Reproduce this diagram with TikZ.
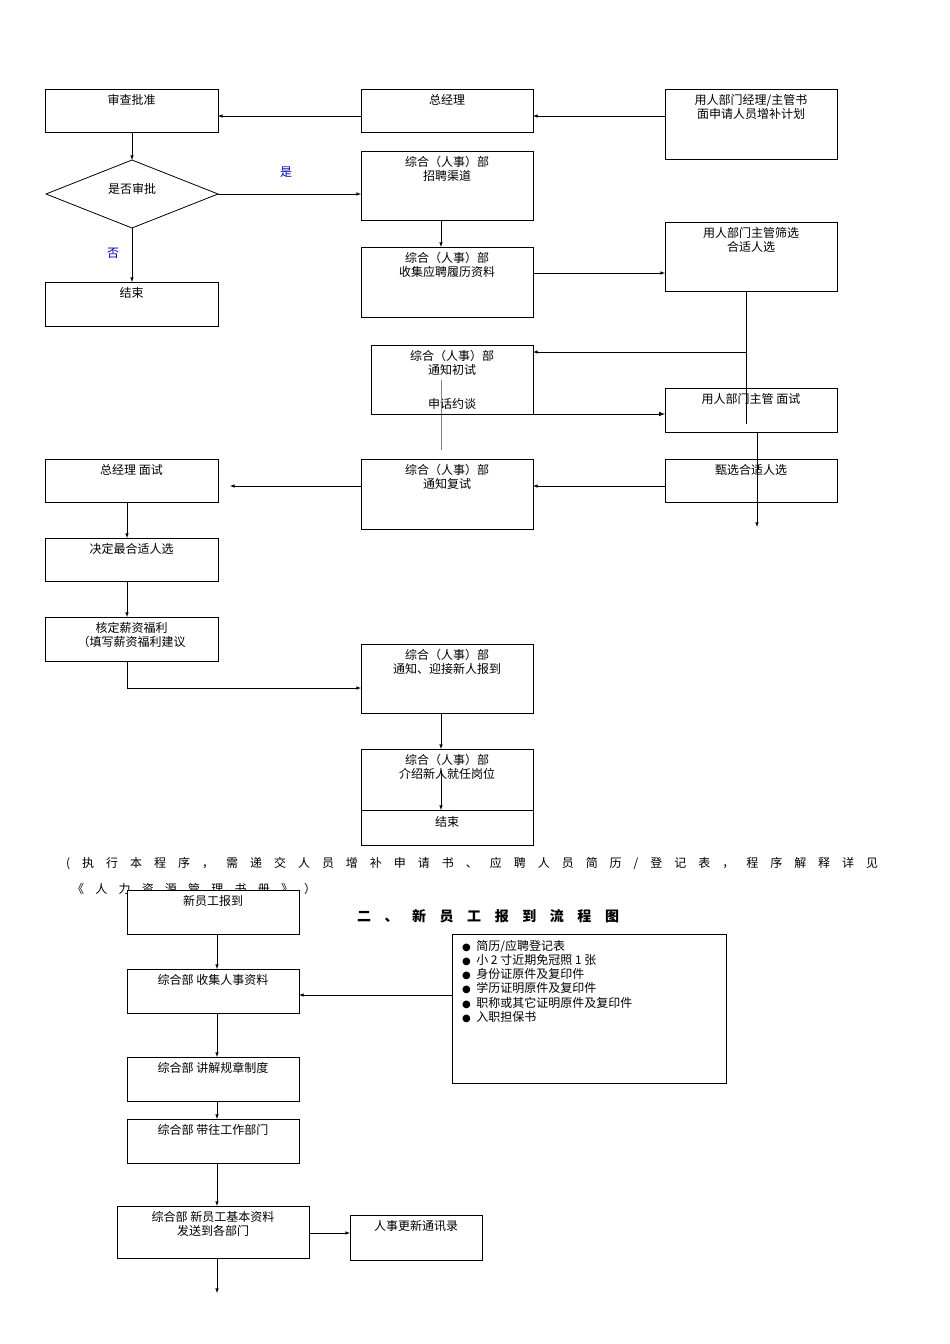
\documentclass[tikz,border=0pt]{standalone}
\usepackage{fontspec}
\setmainfont{Liberation Serif}
\newfontfamily\cjk{Noto Sans CJK SC}
\newfontfamily\dv{DejaVu Sans}
\begin{document}
\begin{tikzpicture}[x=1pt,y=-1pt,
  bx/.style={draw,fill=white,line width=0.8pt},
  tx/.style={anchor=north,font=\cjk\fontsize{12}{14}\selectfont,align=center,inner sep=0pt},
  ar/.style={-latex,line width=0.6pt},
  ln/.style={line width=0.6pt}]
\useasboundingbox (0,0) rectangle (950,1344);
\def\B#1#2#3#4#5#6{\draw[bx] (#2,#3) rectangle (#4,#5); \coordinate (#1) at ({(#2+#4)/2},#3); \node[tx] (#1t) at ({(#2+#4)/2},{#3+5}) {#6};}
\B{a}{45}{89}{218}{132}{审查批准}
\B{b}{361}{89}{533}{132}{总经理}
\B{c}{665}{89}{837}{159}{用人部门经理/主管书\\面申请人员增补计划}
\coordinate (dmn) at (132,160); \coordinate (dme) at (218,194);
\coordinate (dms) at (132,228); \coordinate (dmw) at (46,194);
\draw[line width=0.8pt] (dmn) -- (dme) -- (dms) -- (dmw) -- cycle;
\node[tx] (dmt) at (132,183) {是否审批};
\B{d}{361}{151}{533}{220}{综合（人事）部\\招聘渠道}
\B{e}{45}{282}{218}{326}{结束}
\B{f}{361}{247}{533}{317}{综合（人事）部\\收集应聘履历资料}
\B{g}{665}{222}{837}{291}{用人部门主管筛选\\合适人选}
\B{h}{371}{345}{533}{414}{综合（人事）部\\通知初试}
\node[tx] (ht) at (452,398) {申话约谈};
\B{i}{665}{388}{837}{432}{用人部门主管 面试}
\B{j}{45}{459}{218}{502}{总经理 面试}
\B{k}{361}{459}{533}{529}{综合（人事）部\\通知复试}
\B{l}{665}{459}{837}{502}{甄选合适人选}
\B{m}{45}{538}{218}{581}{决定最合适人选}
\B{n}{45}{617}{218}{661}{核定薪资福利\\（填写薪资福利建议}
\B{o}{361}{644}{533}{713}{综合（人事）部\\通知、迎接新人报到}
\B{p}{361}{749}{533}{845}{综合（人事）部\\介绍新人就任岗位}
\draw[ln] (361,810) -- (533,810);
\node[tx] (pe) at (447,816) {结束};
% connectors
\draw[ar] (361,116) -- (218,116);
\draw[ar] (665,116) -- (533,116);
\draw[ar] (132,132) -- (dmn);
\draw[ar] (dme) -- (361,194);
\node[font=\cjk\fontsize{12}{14}\selectfont,text=blue!70!black] (yes) at (286,172) {是};
\draw[ar] (dms) -- (132,282);
\node[font=\cjk\fontsize{12}{14}\selectfont,text=blue!70!black] (no) at (113,253) {否};
\draw[ar] (441,220) -- (441,247);
\draw[ar] (533,273) -- (665,273);
\draw[ln] (746,291) -- (746,424);
\draw[ar] (746,352) -- (533,352);
\draw[ln,gray] (441,380) -- (441,450);
\draw[ar,line width=1pt] (441,414) -- (665,414);
\draw[ar] (757,432) -- (757,527);
\draw[ar] (665,486) -- (533,486);
\draw[ar] (361,486) -- (230,486);
\draw[ar] (127,502) -- (127,538);
\draw[ar] (127,581) -- (127,617);
\draw[ar] (127,661) -- (127,688) -- (361,688);
\draw[ar] (441,713) -- (441,749);
\draw[ar] (441,770) -- (441,810);
% footer
\node[anchor=west,inner sep=0pt,font=\cjk\fontsize{12}{14}\selectfont] (f1) at (66,864) {\makebox[812pt][s]{( 执 行 本 程 序 ， 需 递 交 人 员 增 补 申 请 书 、 应 聘 人 员 简 历 / 登 记 表 ， 程 序 解 释 详 见}};
\node[anchor=west,inner sep=0pt,font=\cjk\fontsize{12}{14}\selectfont] (f2) at (72,889) {\makebox[244pt][s]{《 人 力 资 源 管 理 书 册 》 ）}};
\B{q}{127}{890}{299}{934}{新员工报到}
\node[font=\cjk\bfseries\fontsize{14}{16}\selectfont] (title) at (488,916) {\makebox[262pt][s]{二 、 新 员 工 报 到 流 程 图}};
\B{r}{127}{969}{299}{1013}{综合部 收集人事资料}
\draw[bx] (452,934) rectangle (726,1083);
\node[anchor=north west,inner sep=0pt,align=left,font=\cjk\fontsize{12}{14.2}\selectfont] (s) at (462,940) {{\dv\fontsize{10}{14.2}\selectfont ●}\ \ 简历/应聘登记表\\{\dv\fontsize{10}{14.2}\selectfont ●}\ \ 小 2 寸近期免冠照 1 张\\{\dv\fontsize{10}{14.2}\selectfont ●}\ \ 身份证原件及复印件\\{\dv\fontsize{10}{14.2}\selectfont ●}\ \ 学历证明原件及复印件\\{\dv\fontsize{10}{14.2}\selectfont ●}\ \ 职称或其它证明原件及复印件\\{\dv\fontsize{10}{14.2}\selectfont ●}\ \ 入职担保书};
\B{t}{127}{1057}{299}{1101}{综合部 讲解规章制度}
\B{u}{127}{1119}{299}{1163}{综合部 带往工作部门}
\B{v}{117}{1206}{309}{1258}{综合部 新员工基本资料\\发送到各部门}
\B{w}{350}{1215}{482}{1260}{人事更新通讯录}
\draw[ar] (217,934) -- (217,969);
\draw[ar] (452,995) -- (299,995);
\draw[ar] (217,1013) -- (217,1057);
\draw[ar] (217,1101) -- (217,1119);
\draw[ar] (217,1163) -- (217,1206);
\draw[ar] (309,1233) -- (350,1233);
\draw[ar] (217,1258) -- (217,1293);
\end{tikzpicture}
\end{document}
